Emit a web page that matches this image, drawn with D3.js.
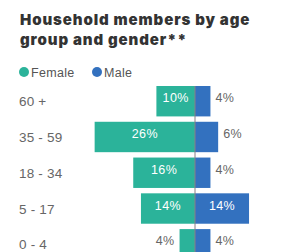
<!DOCTYPE html>
<html>
<head>
<meta charset="utf-8">
<script src="https://cdn.jsdelivr.net/npm/d3@7"></script>
<style>
  body { margin: 0; background: #fff; }
  svg { display: block; }
</style>
</head>
<body>
<div id="vis"></div>
<script>
const ageGroups = ['60 +', '35 - 59', '18 - 34', '5 - 17', '0 - 4'];
const female = [10, 26, 16, 14, 4];
const male = [4, 6, 4, 14, 4];
const seriesNames = ['Female', 'Male'];
const colors = { Female: '#2bb39a', Male: '#3371bf' };

const W = 284, H = 252;
const centerX = 195;
const pxPerPct = 3.86;

const svg = d3.select('#vis')
    .append('svg')
    .attr('width', W)
    .attr('height', H);

// title
const title = svg.append('text')
    .attr('x', 20)
    .attr('y', 25)
    .style('font-family', 'Inter, "DejaVu Sans", sans-serif')
    .style('font-weight', 900)
    .style('font-size', '15px')
    .style('letter-spacing', '0.9px')
    .style('fill', '#333');
title.append('tspan').attr('x', 20).attr('dy', 0).text('Household members by age');
title.append('tspan').attr('x', 20).attr('dy', 20).text('group and gender**');

// legend
const legend = svg.append('g').attr('transform', 'translate(0,72)');
const legendX = [24, 97];
seriesNames.forEach((s, i) => {
    legend.append('circle')
        .attr('cx', legendX[i])
        .attr('cy', 0)
        .attr('r', 5)
        .attr('fill', colors[s]);
    legend.append('text')
        .attr('x', legendX[i] + 7)
        .attr('y', 4.5)
        .style('font-family', '"Liberation Sans", Arial, sans-serif')
        .style('font-size', '12.5px')
        .style('letter-spacing', '0.3px')
        .style('fill', '#555')
        .text(s);
});

// scales
const xLeft = d3.scaleLinear().domain([0, 30]).range([centerX, centerX - 30 * pxPerPct]);
const xRight = d3.scaleLinear().domain([0, 30]).range([centerX, centerX + 30 * pxPerPct]);
const y = d3.scaleBand()
    .domain(ageGroups)
    .range([83.5, 262])
    .paddingInner(0.15)
    .paddingOuter(0.07);

const labelFont = '"Liberation Sans", Arial, sans-serif';

// category labels
svg.selectAll('.cat')
    .data(ageGroups)
    .join('text')
    .attr('class', 'cat')
    .attr('x', 19)
    .attr('y', d => y(d) + y.bandwidth() / 2 + 5)
    .style('font-family', labelFont)
    .style('font-size', '13.5px')
    .style('letter-spacing', '0.2px')
    .style('fill', '#666')
    .text(d => d);

// female bars
svg.selectAll('.fbar')
    .data(female)
    .join('rect')
    .attr('class', 'fbar')
    .attr('x', d => xLeft(d))
    .attr('y', (d, i) => y(ageGroups[i]))
    .attr('width', d => centerX - xLeft(d))
    .attr('height', y.bandwidth())
    .attr('fill', colors.Female);

// male bars
svg.selectAll('.mbar')
    .data(male)
    .join('rect')
    .attr('class', 'mbar')
    .attr('x', centerX)
    .attr('y', (d, i) => y(ageGroups[i]))
    .attr('width', d => xRight(d) - centerX)
    .attr('height', y.bandwidth())
    .attr('fill', colors.Male);

// center line
svg.append('line')
    .attr('x1', centerX).attr('x2', centerX)
    .attr('y1', y(ageGroups[0]))
    .attr('y2', H)
    .attr('stroke', '#8a7f86')
    .attr('stroke-width', 1);

// value labels
const inside = 8;
svg.selectAll('.flab')
    .data(female)
    .join('text')
    .attr('class', 'flab')
    .attr('x', d => d >= inside ? (xLeft(d) + centerX) / 2 : xLeft(d) - 5)
    .attr('y', (d, i) => y(ageGroups[i]) + y.bandwidth() / 2 + 1)
    .attr('text-anchor', d => d >= inside ? 'middle' : 'end')
    .style('font-family', labelFont)
    .style('font-size', '12.5px')
    .style('letter-spacing', '0.4px')
    .style('fill', d => d >= inside ? '#fff' : '#666')
    .text(d => d + '%');

svg.selectAll('.mlab')
    .data(male)
    .join('text')
    .attr('class', 'mlab')
    .attr('x', d => d >= inside ? (xRight(d) + centerX) / 2 : xRight(d) + 5)
    .attr('y', (d, i) => y(ageGroups[i]) + y.bandwidth() / 2 + 1)
    .attr('text-anchor', d => d >= inside ? 'middle' : 'start')
    .style('font-family', labelFont)
    .style('font-size', '12.5px')
    .style('letter-spacing', '0.4px')
    .style('fill', d => d >= inside ? '#fff' : '#666')
    .text(d => d + '%');
</script>
</body>
</html>
